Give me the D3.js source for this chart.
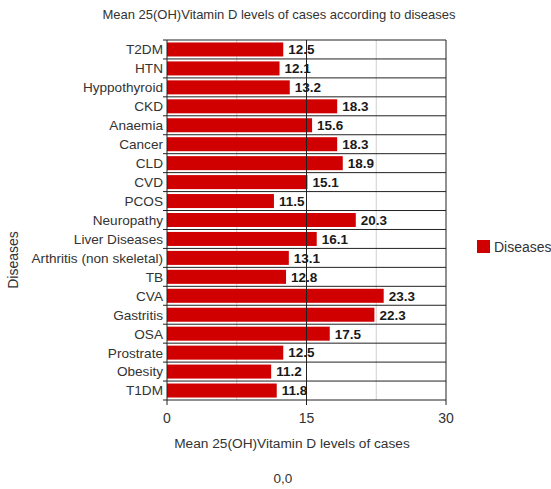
<!DOCTYPE html>
<html>
<head>
<meta charset="utf-8">
<script src="https://cdn.jsdelivr.net/npm/d3@7"></script>
<style>
  html, body { margin: 0; padding: 0; background: #fff; }
  svg { display: block; font-family: "Liberation Sans", Arial, sans-serif; }
</style>
</head>
<body>
<svg id="chart" width="551" height="489"></svg>
<script>
// Mean 25(OH) Vitamin D levels by disease
const categories = ["T2DM", "HTN", "Hyppothyroid", "CKD", "Anaemia", "Cancer", "CLD", "CVD", "PCOS",
  "Neuropathy", "Liver Diseases", "Arthritis (non skeletal)", "TB", "CVA", "Gastritis", "OSA",
  "Prostrate", "Obesity", "T1DM"];
const values = [12.5, 12.1, 13.2, 18.3, 15.6, 18.3, 18.9, 15.1, 11.5, 20.3, 16.1, 13.1, 12.8, 23.3,
  22.3, 17.5, 12.5, 11.2, 11.8];
const xTicks = [0, 15, 30];
const xMinorTicks = [7.5, 22.5];
const seriesName = "Diseases";

const svg = d3.select("#chart");
const margin = { left: 167, right: 105, top: 40, bottom: 89 };
const W = 551, H = 489;
const x = d3.scaleLinear().domain([0, 30]).range([margin.left, W - margin.right]);
const y = d3.scaleBand().domain(categories).range([margin.top, H - margin.bottom]).paddingInner(0.26).paddingOuter(0.13);
const step = y.step();

// light minor gridlines
svg.append("g").selectAll("line").data(xMinorTicks).join("line")
  .attr("x1", d => x(d)).attr("x2", d => x(d))
  .attr("y1", margin.top).attr("y2", H - margin.bottom)
  .attr("stroke", "#cfcfcf").attr("stroke-width", 1);

// row separators
const bounds = d3.range(categories.length + 1).map(i => margin.top + i * step);
svg.append("g").selectAll("line").data(bounds).join("line")
  .attr("x1", margin.left - 4).attr("x2", x(30))
  .attr("y1", d => d).attr("y2", d => d)
  .attr("stroke", "#222").attr("stroke-width", 1);

// bars
svg.append("g").selectAll("rect").data(categories).join("rect")
  .attr("x", x(0)).attr("y", d => y(d))
  .attr("width", (d, i) => x(values[i]) - x(0))
  .attr("height", y.bandwidth())
  .attr("fill", "#d10000");

// major gridline at 15 and frame
[0, 15, 30].forEach(v => {
  svg.append("line").attr("x1", x(v)).attr("x2", x(v))
    .attr("y1", margin.top).attr("y2", H - margin.bottom + 5)
    .attr("stroke", "#222");
});

// value labels
svg.append("g").selectAll("text").data(categories).join("text")
  .attr("x", (d, i) => x(values[i]) + 5)
  .attr("y", d => y(d) + y.bandwidth() / 2)
  .attr("dy", "0.36em")
  .attr("font-size", 13.5).attr("font-weight", "bold").attr("fill", "#1a1a1a")
  .text((d, i) => values[i].toFixed(1));

// category labels
svg.append("g").selectAll("text").data(categories).join("text")
  .attr("x", margin.left - 4)
  .attr("y", d => y(d) + y.bandwidth() / 2)
  .attr("dy", "0.36em")
  .attr("text-anchor", "end")
  .attr("font-size", 13.6).attr("fill", "#333")
  .text(d => d);

// x tick labels
svg.append("g").selectAll("text").data(xTicks).join("text")
  .attr("x", d => x(d)).attr("y", H - margin.bottom + 23)
  .attr("text-anchor", "middle")
  .attr("font-size", 14).attr("fill", "#333")
  .text(d => d);

// titles
svg.append("text").attr("x", 279).attr("y", 19)
  .attr("text-anchor", "middle").attr("font-size", 13).attr("fill", "#333")
  .text("Mean 25(OH)Vitamin D levels of cases according to diseases");
svg.append("text").attr("x", 292).attr("y", 448)
  .attr("text-anchor", "middle").attr("font-size", 13.7).attr("fill", "#333")
  .text("Mean 25(OH)Vitamin D levels of cases");
svg.append("text").attr("x", 283).attr("y", 483)
  .attr("text-anchor", "middle").attr("font-size", 13.5).attr("fill", "#333")
  .text("0,0");
svg.append("text").attr("transform", "translate(18,260) rotate(-90)")
  .attr("text-anchor", "middle").attr("font-size", 14).attr("fill", "#333")
  .text("Diseases");

// legend
const lg = svg.append("g").attr("transform", "translate(477,240)");
lg.append("rect").attr("width", 13).attr("height", 13).attr("fill", "#d10000");
lg.append("text").attr("x", 17).attr("y", 7).attr("dy", "0.36em")
  .attr("font-size", 14).attr("fill", "#333").text(seriesName);
</script>
</body>
</html>
